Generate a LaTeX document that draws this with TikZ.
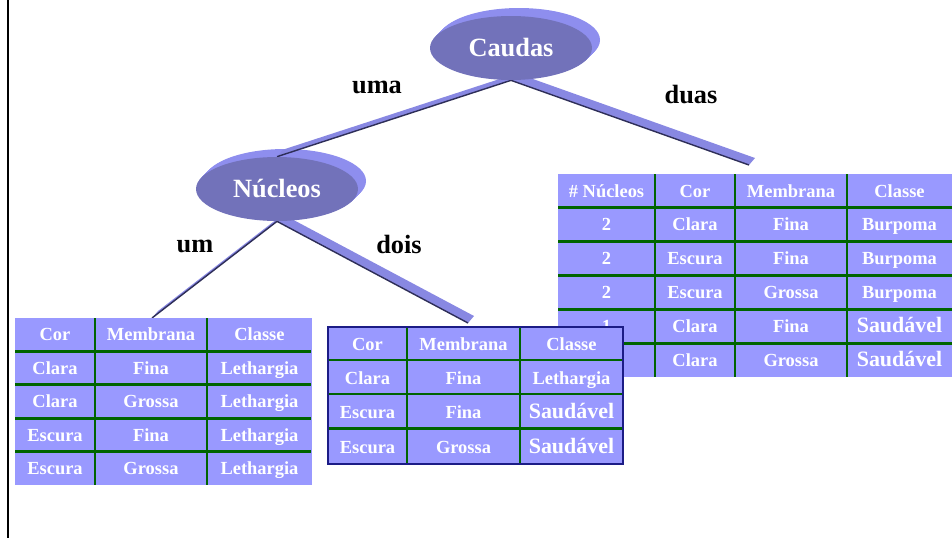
\documentclass[tikz,border=0pt]{standalone}
\usepackage{fontspec}
\setmainfont{Liberation Serif}
\usetikzlibrary{shapes.geometric,backgrounds,calc}

\definecolor{cellblue}{HTML}{9999FF}
\definecolor{faceblue}{HTML}{7272BA}
\definecolor{rimblue}{HTML}{8E8EEE}
\definecolor{barblue}{HTML}{8888E2}
\definecolor{bardark}{HTML}{2E2E58}
\definecolor{gridgreen}{HTML}{006400}
\definecolor{tabnavy}{HTML}{1C1C86}

\newcommand\bigcell{\fontsize{12.5}{14}\selectfont}

\tikzset{
	face/.style={ellipse,fill=faceblue,minimum width=3.24cm,minimum height=1.28cm,inner sep=0pt,
		text=white,font=\fontsize{15}{18}\selectfont\bfseries,text height=10pt,text depth=0pt},
	lbl/.style={anchor=base,font=\fontsize{15}{18}\selectfont\bfseries},
	cell/.style={inner sep=0pt,text=white,font=\fontsize{10.5}{12}\selectfont\bfseries,
		text height=7pt,text depth=0pt},
	grid/.style={gridgreen,line width=1.6pt},
	bar/.style={fill=barblue},
	barline/.style={bardark,line width=0.8pt}
}

\begin{document}
\begin{tikzpicture}[x=0.02cm,y=-0.02cm]
	\useasboundingbox (0,0) rectangle (952,538);
	\draw[line width=1.1pt] (8,0) -- (8,538);

	% test nodes
	\node[face] (caudas) at (511,48) {Caudas};
	\node[face] (nucleos) at (277,189) {Núcleos};

	% branch labels
	\node[lbl] (uma) at (377,93) {uma};
	\node[lbl] (duas) at (691,103) {duas};
	\node[lbl] (um) at (195,252) {um};
	\node[lbl] (dois) at (399,253) {dois};

	\coordinate (duas-end) at (749,165);
	\coordinate (um-end) at (152,318);
	\coordinate (dois-end) at (468,323);

	% duas: right table
	\fill[cellblue] (558,174) rectangle (952,377);
	\foreach \gx in {655,735,847} \draw[grid] (\gx,174) -- (\gx,377);
	\foreach \gy in {207.8,241.7,275.5,309.3,343.2} \draw[grid] (558,\gy) -- (952,\gy);
	\foreach \row [count=\r] in {{\# Núcleos,Cor,Membrana,Classe},{2,Clara,Fina,Burpoma},
		{2,Escura,Fina,Burpoma},{2,Escura,Grossa,Burpoma},{1,Clara,Fina,\bigcell Saudável},
		{,Clara,Grossa,\bigcell Saudável}} {
		\foreach \txt [count=\c] in \row {
			\pgfmathsetmacro\cx{{606.5,695,791,899.5}[\c-1]}
			\node[cell] (tc-\r-\c) at (\cx,174+33.83*\r-16.9) {\txt};
		}
	}

	% um: left table
	\fill[cellblue] (15,318) rectangle (312,485);
	\foreach \gx in {95,207} \draw[grid] (\gx,318) -- (\gx,485);
	\foreach \gy in {351.4,384.8,418.2,451.6} \draw[grid] (15,\gy) -- (311,\gy);
	\foreach \row [count=\r] in {{Cor,Membrana,Classe},{Clara,Fina,Lethargia},
		{Clara,Grossa,Lethargia},{Escura,Fina,Lethargia},{Escura,Grossa,Lethargia}} {
		\foreach \txt [count=\c] in \row {
			\pgfmathsetmacro\cx{{55,151,259.5}[\c-1]}
			\node[cell] (ta-\r-\c) at (\cx,318+33.4*\r-16.7) {\txt};
		}
	}

	% dois: middle table
	\fill[cellblue] (328,327) rectangle (623,464);
	\foreach \gx in {407,520} \draw[grid] (\gx,327) -- (\gx,464);
	\foreach \gy in {360,394,428.5} \draw[grid] (328,\gy) -- (623,\gy);
	\draw[tabnavy,line width=0.9pt] (328,327) rectangle (623,464);
	\foreach \row [count=\r] in {{Cor,Membrana,Classe},{Clara,Fina,Lethargia},
		{Escura,Fina,\bigcell Saudável},{Escura,Grossa,\bigcell Saudável}} {
		\foreach \txt [count=\c] in \row {
			\pgfmathsetmacro\cx{{367.5,463.5,571.5}[\c-1]}
			\node[cell] (tb-\r-\c) at (\cx,327+34.25*\r-17.1) {\txt};
		}
	}

	\begin{pgfonlayer}{background}
		% rims
		\foreach \k in {1,...,8} {
			\fill[rimblue] ($(caudas.center)+(\k,-\k)$) ellipse (81 and 32);
			\fill[rimblue] ($(nucleos.center)+(\k,-\k)$) ellipse (81 and 32);
		}
		% branches
		\fill[bar] (caudas.south) -- (nucleos.north) -- ($(nucleos.north)+(6,-7)$) -- ($(caudas.south)+(6,-7)$) -- cycle;
		\draw[barline] (caudas.south) -- (nucleos.north);
		\fill[bar] (caudas.south) -- (duas-end) -- ($(duas-end)+(6,-7)$) -- ($(caudas.south)+(6,-7)$) -- cycle;
		\draw[barline] (caudas.south) -- (duas-end);
		\fill[bar] (nucleos.south) -- (um-end) -- ($(um-end)+(6,-7)$) -- ($(nucleos.south)+(6,-7)$) -- cycle;
		\draw[barline] (nucleos.south) -- (um-end);
		\fill[bar] (nucleos.south) -- (dois-end) -- ($(dois-end)+(6,-7)$) -- ($(nucleos.south)+(6,-7)$) -- cycle;
		\draw[barline] (nucleos.south) -- (dois-end);
	\end{pgfonlayer}
\end{tikzpicture}
\end{document}
